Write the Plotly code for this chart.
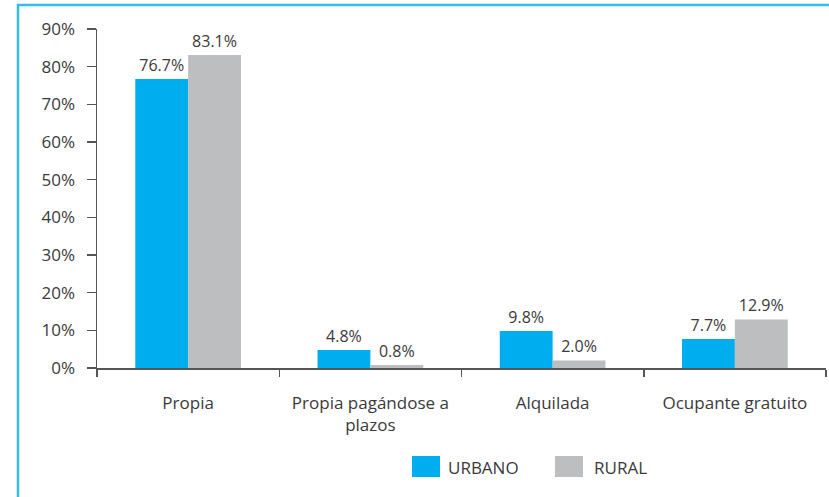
import plotly.graph_objects as go

categories = ["Propia", "Propia pagándose a<br>plazos", "Alquilada", "Ocupante gratuito"]
urbano = [0.767, 0.048, 0.098, 0.077]
rural = [0.831, 0.008, 0.020, 0.129]
series_names = ["URBANO", "RURAL"]
tick_vals = [0, 0.1, 0.2, 0.3, 0.4, 0.5, 0.6, 0.7, 0.8, 0.9]
tick_text = ["0%", "10%", "20%", "30%", "40%", "50%", "60%", "70%", "80%", "90%"]

BLUE = "#00AEEF"
GRAY = "#BCBEC0"
TXT = "#3a3a3a"
FONT = "Open Sans"

def fmt(v):
    return f"{v*100:.1f}%"

fig = go.Figure()
fig.add_trace(go.Bar(x=categories, y=urbano, name=series_names[0], marker_color=BLUE,
                     marker_line_width=0, text=[fmt(v) for v in urbano],
                     textposition="outside", textfont=dict(size=16, color=TXT, family=FONT),
                     cliponaxis=False, hoverinfo="skip"))
fig.add_trace(go.Bar(x=categories, y=rural, name=series_names[1], marker_color=GRAY,
                     marker_line_width=0, text=[fmt(v) for v in rural],
                     textposition="outside", textfont=dict(size=16, color=TXT, family=FONT),
                     cliponaxis=False, hoverinfo="skip"))

L, R, T, B = 97, 3, 29, 129
W, H = 829, 497
pw, ph = W - L - R, H - T - B

def px_x(x):
    return (x - L) / pw

def px_y(y):
    return (H - B - y) / ph

shapes = [
    # border
    dict(type="rect", xref="paper", yref="paper",
         x0=px_x(18), x1=px_x(900), y0=px_y(560), y1=px_y(5),
         line=dict(color="#33BDEF", width=2.5), fillcolor="rgba(0,0,0,0)", layer="below"),
    # legend swatches
    dict(type="rect", xref="paper", yref="paper",
         x0=px_x(412), x1=px_x(440), y0=px_y(477), y1=px_y(456),
         line=dict(width=0), fillcolor=BLUE),
    dict(type="rect", xref="paper", yref="paper",
         x0=px_x(555), x1=px_x(583), y0=px_y(477), y1=px_y(456),
         line=dict(width=0), fillcolor=GRAY),
]
annotations = [
    dict(xref="paper", yref="paper", x=px_x(446), y=px_y(467), text=series_names[0],
         showarrow=False, xanchor="left", yanchor="middle",
         font=dict(size=17, color=TXT, family=FONT)),
    dict(xref="paper", yref="paper", x=px_x(592), y=px_y(467), text=series_names[1],
         showarrow=False, xanchor="left", yanchor="middle",
         font=dict(size=17, color=TXT, family=FONT)),
]

fig.update_layout(
    width=W, height=H,
    margin=dict(l=L, r=R, t=T, b=B),
    paper_bgcolor="white", plot_bgcolor="white",
    barmode="group", bargap=0.42, bargroupgap=0,
    showlegend=False, hovermode=False,
    font=dict(family=FONT, color=TXT, size=17),
    shapes=shapes, annotations=annotations,
    xaxis=dict(showline=True, linecolor="#555555", linewidth=1.5,
               ticks="outside", tickson="boundaries", ticklen=7, tickcolor="#555555",
               tickwidth=1.5, tickfont=dict(size=17, color=TXT, family=FONT),
               ticklabelstandoff=19, showgrid=False, zeroline=False),
    yaxis=dict(range=[0, 0.9], tickvals=tick_vals, ticktext=tick_text,
               showline=True, linecolor="#555555", linewidth=1.5,
               ticks="outside", ticklen=9, tickcolor="#555555", tickwidth=1.5,
               tickfont=dict(size=17, color=TXT, family=FONT), ticklabelstandoff=8,
               showgrid=False, zeroline=False),
)

fig.write_html("out.html", config={"displayModeBar": False, "staticPlot": True},
               post_script="document.body.style.margin='0';document.body.style.overflow='hidden';")
